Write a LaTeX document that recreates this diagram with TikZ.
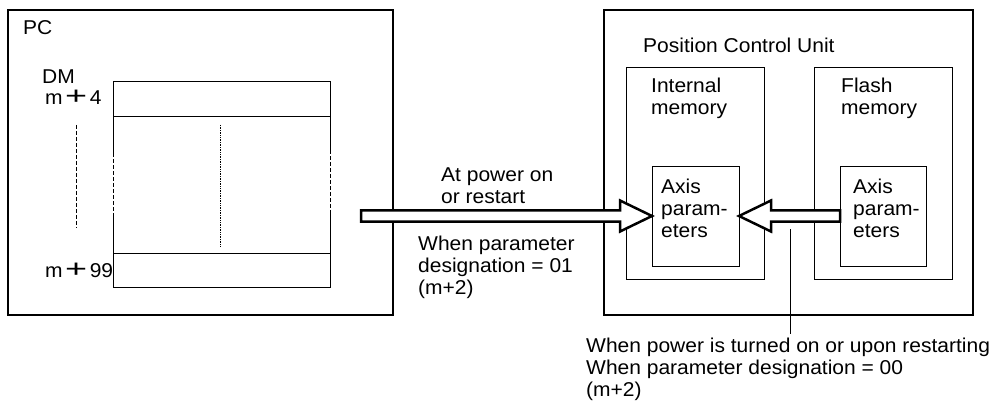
\documentclass[tikz,border=0pt]{standalone}
\usepackage{fontspec}
\setmainfont{Liberation Sans}[FakeStretch=1.05]
\usepackage{graphicx}
\usetikzlibrary{calc, positioning}

\tikzset{
  lbl/.style={font=\fontsize{20}{22}\selectfont, align=left, inner sep=0pt, anchor=base west},
  unitbox/.style={draw, line width=2pt, inner sep=0pt, outer sep=0pt, anchor=north west},
  membox/.style={draw, line width=0.8pt, inner sep=0pt, outer sep=0pt, anchor=north west},
  tablerow/.style={draw, line width=0.9pt, inner sep=0pt, outer sep=0pt, anchor=north west, minimum width=217pt},
  sidedash/.style={line width=0.9pt, dash pattern=on 4pt off 2pt},
  blockarrow/.style={draw, fill=white, line width=2.5pt, line join=miter},
}

% block arrow from #1 (tail) to #2 (tip), horizontal
\newcommand{\blockarrow}[2]{%
  \draw[blockarrow] let \p1=(#1), \p2=(#2), \n1={sign(\x2-\x1)} in
    (\x1,\y2+5.5pt) -- (\x2-\n1*32pt,\y2+5.5pt) -- (\x2-\n1*32pt,\y2+15.5pt)
    -- (\x2,\y2) -- (\x2-\n1*32pt,\y2-15.5pt) -- (\x2-\n1*32pt,\y2-5.5pt)
    -- (\x1,\y2-5.5pt) -- cycle;}
% wide plus of the DM word labels
\newcommand{\dmplus}{\kern2.5pt\scalebox{1.8}[1.25]{+}\kern2.5pt}

\begin{document}
\begin{tikzpicture}[x=1pt, y=-1pt]
    \useasboundingbox (0,0) rectangle (994,401);

    % PC side
    \node[unitbox, minimum width=385pt, minimum height=305pt] (pc) at (8,10) {};
    \node[tablerow, minimum height=35pt] (dmtop) at (113,81) {};
    \node[tablerow, minimum height=34pt] (dmbot) at (113,253) {};
    \draw[line width=0.9pt] (dmtop.south west) -- (113,153);
    \draw[sidedash] (113,153) -- (113,217);
    \draw[line width=0.9pt] (113,217) -- (dmbot.north west);
    \draw[line width=0.9pt] (dmtop.south east) -- (330,150);
    \draw[sidedash] (330,150) -- (330,210);
    \draw[line width=0.9pt] (330,210) -- (dmbot.north east);
    \draw[line width=0.7pt, densely dotted] (220,125) -- (220,247);
    \draw[sidedash] (76,125) -- (76,228);

    % Position Control Unit side
    \node[unitbox, minimum width=369pt, minimum height=305pt] (pcu) at (604,10) {};
    \node[membox, minimum width=138pt, minimum height=212pt] (intmem) at (626,67) {};
    \node[membox, minimum width=138pt, minimum height=212pt] (flashmem) at (814,67) {};
    \node[membox, minimum width=87pt, minimum height=100pt] (axisL) at (652,166) {};
    \node[membox, minimum width=86pt, minimum height=100pt] (axisR) at (840,166) {};

    % transfers
    \coordinate (pcout) at (361,217);
    \blockarrow{pcout}{axisL.west}
    \blockarrow{axisR.west}{axisL.east}
    \coordinate (lead) at (790,229);

    % labels (base = baseline of the last line)
    \node[lbl] (pclbl) at (23,35) {PC};
    \node[lbl] (dmlbl) at (42,84) {DM};
    \node[lbl] (mfour) at (45,105) {m\dmplus 4};
    \node[lbl] (mlast) at (45,277) {m\dmplus 99};
    \node[lbl] (pculbl) at (643,53) {Position Control Unit};
    \node[lbl] (intlbl) at (651,115) {Internal\\memory};
    \node[lbl] (flashlbl) at (841,115) {Flash\\memory};
    \node[lbl] (axisLlbl) at (661,237) {Axis\\param-\\eters};
    \node[lbl] (axisRlbl) at (853,237) {Axis\\param-\\eters};
    \node[lbl] (onlbl) at (441,204) {At power on\\or restart};
    \node[lbl] (sel01) at (418,294) {When parameter\\designation = 01\\(m+2)};
    \node[lbl] (note) at (586,396) {When power is turned on or upon restarting\\When parameter designation = 00\\(m+2)};

    \draw[line width=0.9pt] (lead) -- ($(lead |- note.north)+(0,-3)$);
\end{tikzpicture}
\end{document}
